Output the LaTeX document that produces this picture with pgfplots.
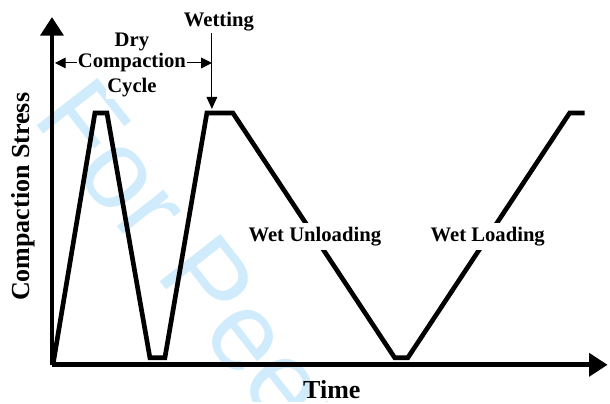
\documentclass[border=0pt]{standalone}
\usepackage{pgfplots}
\pgfplotsset{compat=1.18}
\usepackage{fontspec}
\setmainfont{Liberation Serif}
\usetikzlibrary{arrows.meta}
\definecolor{wm}{RGB}{208,236,252}
\begin{document}
\begin{tikzpicture}
\begin{axis}[
  scale only axis,
  width=417pt, height=261pt,
  xmin=52, xmax=608, ymin=0, ymax=348,
  axis lines=left,
  axis on top,
  axis line style={line width=3.5pt, -{Triangle[width=17pt,length=14pt]}},
  xtick=\empty, ytick=\empty,
  clip=false,
]
% bounding box of the whole picture (610 x 402 px)
\path (axis cs:0,365) rectangle (axis cs:610,-37);
% watermark
\begin{scope}
\clip (axis cs:0,365) rectangle (axis cs:610,-37);
\node[overlay, anchor=mid west, rotate=-52, text=wm, inner sep=0pt,
  font=\fontsize{84}{90}\selectfont\fontspec{Liberation Sans}]
  at (axis cs:34,249) {For Peer Review};
\end{scope}
\addplot[black, line width=3.5pt, line join=miter, line cap=butt] coordinates {
 (53,0) (95,252) (107,252) (150,7) (165,7) (207,252) (233,252)
 (395,7) (408,7) (570,252) (585,252)
};
% annotations
\draw[line width=0.8pt, {Triangle[width=8pt,length=8pt]}-{Triangle[width=8pt,length=8pt]}]
  (axis cs:55,302) -- (axis cs:212,302);
\draw[line width=0.8pt, -{Triangle[width=8pt,length=9pt]}]
  (axis cs:212,335) -- (axis cs:212,256);
\begin{scope}[every node/.style={font=\fontsize{15.5}{17}\selectfont\bfseries, inner sep=1pt}]
\node[fill=white] at (axis cs:132,323) {Dry};
\node[fill=white] at (axis cs:132,302) {Compaction};
\node[fill=white] at (axis cs:132,277) {Cycle};
\node[fill=white] at (axis cs:219,343) {Wetting};
\node[fill=white, inner sep=3pt] at (axis cs:315,128) {Wet Unloading};
\node[fill=white, inner sep=3pt] at (axis cs:488,128) {Wet Loading};
\end{scope}
\node[font=\fontsize{19.5}{22}\selectfont\bfseries] at (axis cs:332,-25) {Time};
\node[font=\fontsize{19.5}{22}\selectfont\bfseries, rotate=90] at (axis cs:23,168) {Compaction Stress};
\end{axis}
\end{tikzpicture}
\end{document}
